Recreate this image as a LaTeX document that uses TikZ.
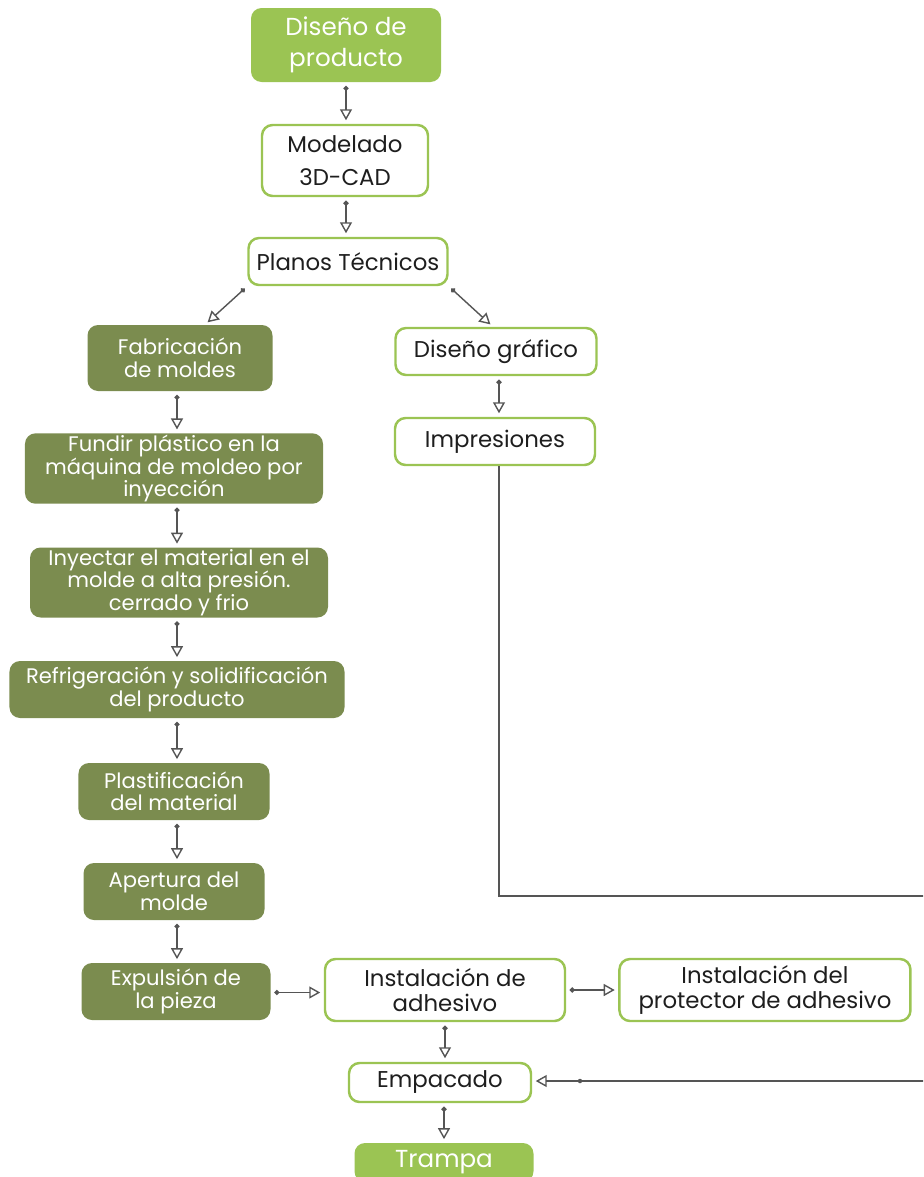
\documentclass[tikz,border=0pt]{standalone}
\usepackage{fontspec}
\setmainfont{Poppins}
\usetikzlibrary{arrows.meta, positioning}
\definecolor{verdeClaro}{HTML}{9BC453}
\definecolor{verdeOliva}{HTML}{7B8C4F}
\definecolor{lineaGris}{HTML}{555555}
\definecolor{textoOscuro}{HTML}{1E1E1E}
\tikzset{
  flecha/.style={{Circle[length=1mm]}-{Triangle[open, length=2.2mm, width=2.4mm]},
                 lineaGris, line width=0.8pt, shorten <=2pt, shorten >=2pt},
  flechaLarga/.style={-{Triangle[open, length=2.2mm, width=2.4mm]},
                      lineaGris, line width=0.8pt, shorten >=2pt},
  cajaClara/.style={rectangle, rounded corners=6pt, fill=verdeClaro, text=white,
                    align=center, font=\fontsize{14}{18}\selectfont, inner sep=1pt},
  cajaBlanca/.style={rectangle, rounded corners=6pt, draw=verdeClaro, line width=1.4pt,
                     fill=white, text=textoOscuro, align=center,
                     font=\fontsize{13}{19}\selectfont, inner sep=1pt},
  cajaOliva/.style={rectangle, rounded corners=6pt, fill=verdeOliva, text=white,
                    align=center, font=\fontsize{12}{12.8}\selectfont, inner sep=1pt},
}
\begin{document}
\begin{tikzpicture}
    \useasboundingbox (0,0) rectangle (18.46,-23.54);
    \clip (0,0) rectangle (18.46,-23.54);

    % Diseño y planos
    \node[cajaClara, minimum width=3.8cm, minimum height=1.48cm] at (6.92,-0.9) (prod)
         {Diseño de\\producto};
    \node[cajaBlanca, minimum width=3.32cm, minimum height=1.42cm] at (6.9,-3.21) (cad)
         {Modelado\\3D-CAD};
    \node[cajaBlanca, minimum width=3.98cm, minimum height=0.94cm] at (6.96,-5.23) (planos)
         {Planos Técnicos};
    \draw[flecha] (prod.south) -- (prod.south |- cad.north);
    \draw[flecha] (prod.south |- cad.south) -- (prod.south |- planos.north);

    % Rama de moldeo
    \node[cajaOliva, minimum width=3.7cm, minimum height=1.32cm] at (3.6,-7.16) (fab)
         {Fabricación\\de moldes};
    \node[cajaOliva, minimum width=5.96cm, minimum height=1.38cm] at (3.48,-9.37) (fundir)
         {Fundir plástico en la\\máquina de moldeo por\\inyección};
    \node[cajaOliva, minimum width=5.96cm, minimum height=1.38cm] at (3.58,-11.65) (inyectar)
         {Inyectar el material en el\\molde a alta presión.\\cerrado y frio};
    \node[cajaOliva, minimum width=6.7cm, minimum height=1.14cm] at (3.54,-13.79) (refrig)
         {Refrigeración y solidificación\\del producto};
    \node[cajaOliva, minimum width=3.82cm, minimum height=1.14cm] at (3.48,-15.83) (plast)
         {Plastificación\\del material};
    \node[cajaOliva, minimum width=3.62cm, minimum height=1.14cm] at (3.48,-17.83) (apert)
         {Apertura del\\molde};
    \node[cajaOliva, minimum width=3.78cm, minimum height=1.14cm] at (3.52,-19.83) (expul)
         {Expulsión de\\la pieza};
    \draw[flecha] (planos.south west) -- ([xshift=0.5cm]fab.north);
    \draw[flecha] ([xshift=-0.06cm]fab.south) -- ([xshift=-0.06cm]fab.south |- fundir.north);
    \draw[flecha] ([xshift=-0.06cm]fab.south |- fundir.south) -- ([xshift=-0.06cm]fab.south |- inyectar.north);
    \draw[flecha] ([xshift=-0.06cm]fab.south |- inyectar.south) -- ([xshift=-0.06cm]fab.south |- refrig.north);
    \draw[flecha] ([xshift=-0.06cm]fab.south |- refrig.south) -- ([xshift=-0.06cm]fab.south |- plast.north);
    \draw[flecha] ([xshift=-0.06cm]fab.south |- plast.south) -- ([xshift=-0.06cm]fab.south |- apert.north);
    \draw[flecha] ([xshift=-0.06cm]fab.south |- apert.south) -- ([xshift=-0.06cm]fab.south |- expul.north);

    % Rama gráfica
    \node[cajaBlanca, minimum width=4.02cm, minimum height=0.94cm] at (9.92,-7.03) (grafico)
         {Diseño gráfico};
    \node[cajaBlanca, minimum width=4cm, minimum height=0.94cm] at (9.9,-8.83) (impr)
         {Impresiones};
    \draw[flecha] (planos.south east) -- ([xshift=-0.06cm]grafico.north);
    \draw[flecha] ([xshift=0.06cm]grafico.south) -- ([xshift=0.06cm]grafico.south |- impr.north);

    % Ensamble y empaque
    \node[cajaBlanca, font=\fontsize{13}{14}\selectfont, minimum width=4.8cm,
          minimum height=1.24cm] at (8.9,-19.8) (adh)
         {Instalación de\\adhesivo};
    \node[cajaBlanca, font=\fontsize{13}{14}\selectfont, right=1.04cm of adh,
          minimum width=5.82cm, minimum height=1.24cm] (prot)
         {Instalación del\\protector de adhesivo};
    \node[cajaBlanca, minimum width=3.64cm, minimum height=0.78cm] at (8.8,-21.65) (emp)
         {Empacado};
    \node[cajaClara, minimum width=3.58cm, minimum height=0.78cm] at (8.88,-23.25) (trampa)
         {Trampa};
    \draw[flecha] ([yshift=-0.02cm]expul.east) -- ([yshift=-0.02cm]expul.east -| adh.west);
    \draw[flecha] (adh) -- (prot);
    \draw[flecha] (adh.south) -- (adh.south |- emp.north);
    \draw[flecha] ([xshift=0.08cm]emp.south) -- ([xshift=0.08cm]emp.south |- trampa.north);

    % Retorno de impresiones
    \coordinate (vuelta1) at (18.7,-17.92);
    \coordinate (vuelta2) at (18.7,-21.62);
    \coordinate (punto) at (11.6,-21.62);
    \draw[flechaLarga] ([xshift=0.08cm]impr.south) |- (vuelta1) -- (vuelta2) -- (emp.east |- vuelta2);
    \fill[lineaGris] (punto) circle (0.045);
\end{tikzpicture}
\end{document}
